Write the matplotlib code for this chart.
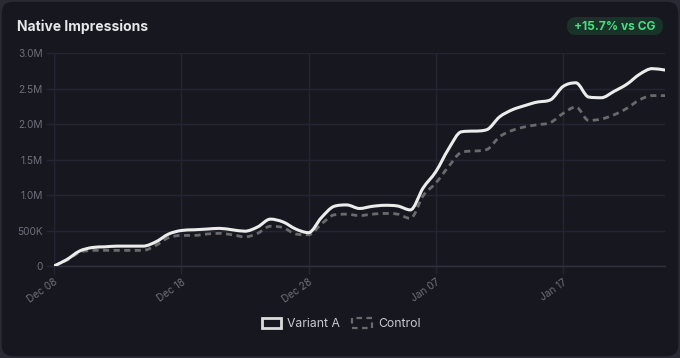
import matplotlib
matplotlib.use('Agg')
import numpy as np
import pandas as pd
import matplotlib.pyplot as plt
import matplotlib.dates as mdates
import matplotlib.ticker as mticker
from matplotlib.patches import FancyBboxPatch, Patch, PathPatch
from matplotlib.path import Path

# ---------- DATA ----------
START_DATE = "2024-12-08"
variant_a = [0.00, 0.09, 0.21, 0.26, 0.27, 0.28, 0.28, 0.28, 0.34, 0.45,
             0.50, 0.51, 0.52, 0.53, 0.51, 0.49, 0.55, 0.66, 0.62, 0.52,
             0.47, 0.68, 0.84, 0.86, 0.81, 0.84, 0.855, 0.845, 0.79, 1.10,
             1.33, 1.65, 1.89, 1.90, 1.92, 2.10, 2.20, 2.26, 2.31, 2.34,
             2.53, 2.58, 2.38, 2.37, 2.46, 2.56, 2.70, 2.78, 2.76]
control = [0.00, 0.08, 0.19, 0.22, 0.22, 0.22, 0.22, 0.22, 0.29, 0.40,
           0.43, 0.43, 0.45, 0.46, 0.44, 0.41, 0.46, 0.56, 0.54, 0.45,
           0.44, 0.59, 0.72, 0.73, 0.71, 0.73, 0.74, 0.73, 0.67, 0.99,
           1.17, 1.40, 1.60, 1.62, 1.64, 1.82, 1.91, 1.96, 1.99, 2.02,
           2.15, 2.24, 2.05, 2.07, 2.13, 2.22, 2.34, 2.40, 2.40]
TITLE = "Native Impressions"
BADGE = "+15.7% vs CG"
# ---------------------------

BG = "#17181f"
BORDER = "#2a2b35"
GRID = "#242532"
TICK = "#6c6f7b"
W, H = 680, 358

plt.rcParams['font.family'] = ['Inter', 'DejaVu Sans']


def monotone_path(x, y):
    """Cubic bezier path through the points (monotone tangents, like chart.js)."""
    x = np.asarray(x, float)
    y = np.asarray(y, float)
    dx = np.diff(x)
    d = np.diff(y) / dx
    m = np.zeros_like(y)
    m[0], m[-1] = d[0], d[-1]
    for i in range(1, len(y) - 1):
        if d[i - 1] * d[i] <= 0:
            m[i] = 0
        else:
            m[i] = (d[i - 1] + d[i]) / 2
    for i in range(len(d)):
        if d[i] == 0:
            m[i] = m[i + 1] = 0
            continue
        a, b = m[i] / d[i], m[i + 1] / d[i]
        s = a * a + b * b
        if s > 9:
            t = 3 / np.sqrt(s)
            m[i], m[i + 1] = t * a * d[i], t * b * d[i]
    verts = [(x[0], y[0])]
    codes = [Path.MOVETO]
    for i in range(len(dx)):
        h = dx[i] / 3
        verts += [(x[i] + h, y[i] + m[i] * h),
                  (x[i + 1] - h, y[i + 1] - m[i + 1] * h),
                  (x[i + 1], y[i + 1])]
        codes += [Path.CURVE4] * 3
    return Path(verts, codes)


dates = pd.date_range(START_DATE, periods=len(variant_a), freq="D")
xnum = mdates.date2num(dates.to_pydatetime())
va = [v * 1e6 for v in variant_a]
cg = [v * 1e6 for v in control]

fig = plt.figure(figsize=(W / 100, H / 100), dpi=100)
fig.patch.set_facecolor(BORDER)
card = FancyBboxPatch((0.0015, 0.003), 0.997, 0.994,
                      boxstyle=f"round,pad=0,rounding_size={12 / W}",
                      transform=fig.transFigure, facecolor=BG,
                      edgecolor=BORDER, linewidth=1, mutation_aspect=W / H,
                      zorder=-10)
fig.patches.append(card)

ax = fig.add_axes([54 / W, 1 - 266 / H, (665 - 54) / W, (266 - 53) / H])
ax.set_facecolor(BG)
ax.patch.set_alpha(0)

ax.add_patch(PathPatch(monotone_path(xnum, cg), fill=False, edgecolor="#6a6a6c",
                       lw=2.0, linestyle=(0, (2.2, 1.6)), capstyle='butt', zorder=3))
ax.add_patch(PathPatch(monotone_path(xnum, va), fill=False, edgecolor="#ececec",
                       lw=2.2, joinstyle='round', capstyle='round', zorder=4))

ax.set_xlim(xnum[0], xnum[-1])
ax.set_ylim(0, 3.0e6)
ax.yaxis.set_major_locator(mticker.MultipleLocator(5e5))


def fmt_y(v, pos):
    if v == 0:
        return "0"
    if v < 1e6:
        return f"{v / 1e3:.0f}K"
    return f"{v / 1e6:.1f}M"


ax.yaxis.set_major_formatter(mticker.FuncFormatter(fmt_y))
ax.set_xticks(xnum[::10])
ax.xaxis.set_major_formatter(mdates.DateFormatter('%b %d'))

ax.grid(True, color=GRID, lw=1)
ax.set_axisbelow(True)
for side in ['top', 'right', 'left']:
    ax.spines[side].set_visible(False)
ax.spines['bottom'].set_color("#30323f")
ax.spines['bottom'].set_linewidth(1)
ax.tick_params(axis='both', colors=GRID, labelcolor=TICK, labelsize=7.3, length=6, width=1)
ax.tick_params(axis='y', pad=2)
ax.tick_params(axis='x', pad=2)
plt.setp(ax.get_xticklabels(), rotation=35, ha="right", rotation_mode="anchor")

fig.text(17 / W, 1 - 27 / H, TITLE, color="#e6e7ea", fontsize=10,
         fontweight='bold', va='center', ha='left')

badge = FancyBboxPatch((567 / W, 1 - 35 / H), 96 / W, 18 / H,
                       boxstyle=f"round,pad=0,rounding_size={9 / W}",
                       transform=fig.transFigure, facecolor="#19322a",
                       edgecolor='none', mutation_aspect=W / H)
fig.patches.append(badge)
fig.text(615 / W, 1 - 26.5 / H, BADGE, color="#4ade80", fontsize=8.6,
         fontweight='bold', va='center', ha='center')

handles = [Patch(facecolor=BG, edgecolor="#dcdcdc", linewidth=2, label="Variant A"),
           Patch(facecolor=BG, edgecolor="#6a6a6c", linewidth=1.6,
                 linestyle=(0, (2.5, 2)), label="Control")]
leg = fig.legend(handles=handles, loc='center', bbox_to_anchor=(341 / W, 1 - 324 / H),
                 ncol=2, frameon=False, fontsize=8.8, handlelength=1.6,
                 handleheight=0.9, handletextpad=0.5, columnspacing=1.0)
for t in leg.get_texts():
    t.set_color("#c8cad0")

fig.savefig("out.png", dpi=100, facecolor=fig.get_facecolor())
plt.close(fig)
